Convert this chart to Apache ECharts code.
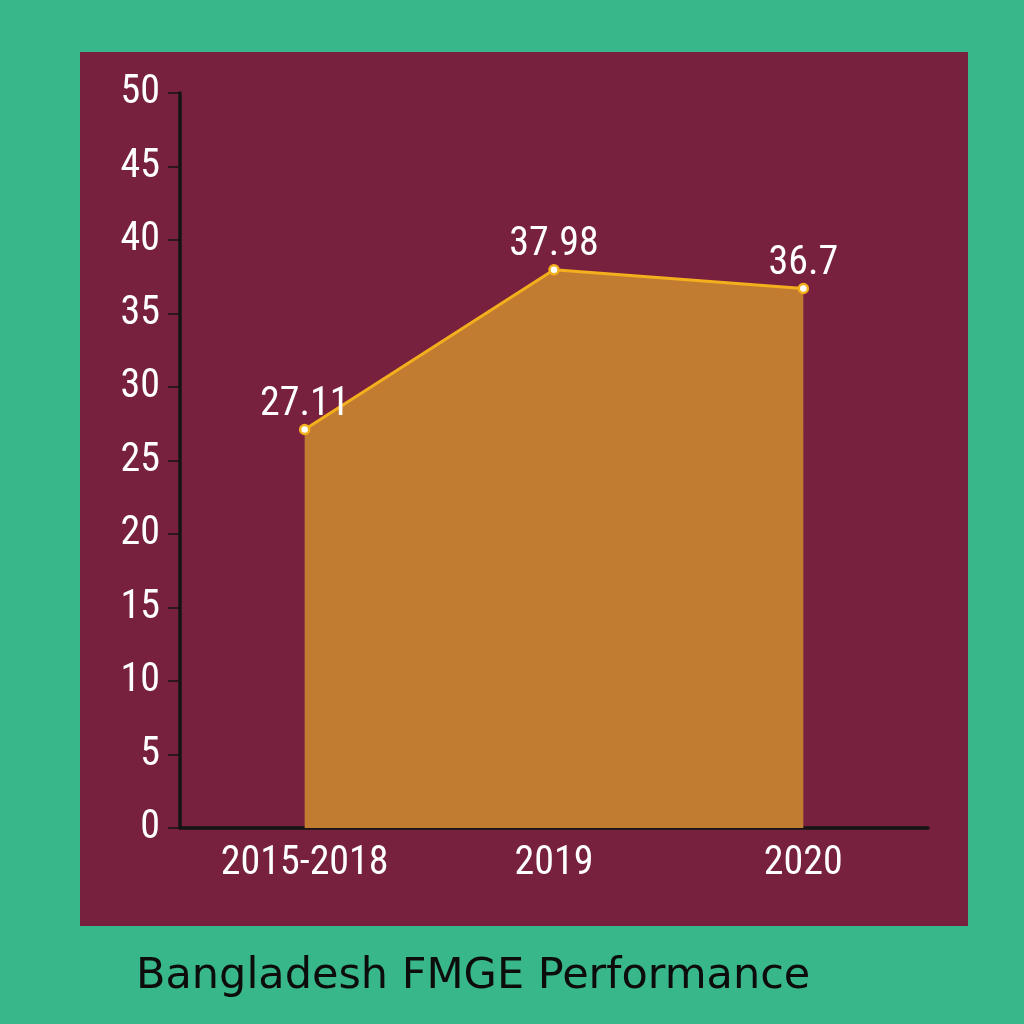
<!DOCTYPE html>
<html>
<head>
<meta charset="utf-8">
<script src="https://cdn.jsdelivr.net/npm/echarts@6/dist/echarts.min.js"></script>
<style>
  html, body { margin: 0; padding: 0; background: #38b78a; }
  #main { width: 1024px; height: 1024px; }
</style>
</head>
<body>
<div id="main"></div>
<script>
  // data
  const categories = ['2015-2018', '2019', '2020'];
  const passRates = [27.11, 37.98, 36.7];
  const titleText = 'Bangladesh FMGE Performance';

  const narrowFont = '"Roboto Condensed", "Liberation Sans Narrow", Roboto, sans-serif';

  let myChart = echarts.init(document.getElementById('main'));

  let option = {
    backgroundColor: '#38b78a',
    animation: false,
    title: {
      text: titleText,
      left: 131,
      top: 950,
      textStyle: {
        color: '#0c0c0c',
        fontFamily: '"DejaVu Sans", "Noto Sans", sans-serif',
        fontWeight: 'normal',
        fontSize: 43
      }
    },
    graphic: [
      {
        type: 'rect',
        z: -10,
        shape: { x: 80, y: 52, width: 888, height: 874 },
        style: { fill: '#78213f' }
      }
    ],
    grid: { left: 180, right: 96, top: 93, bottom: 196 },
    xAxis: {
      type: 'category',
      data: categories,
      boundaryGap: true,
      axisLine: { lineStyle: { color: '#141414', width: 3.5 } },
      axisTick: { alignWithLabel: true, length: 12, lineStyle: { color: '#141414', width: 1.5 } },
      axisLabel: {
        color: '#ffffff',
        fontFamily: narrowFont,
        fontSize: 40,
        margin: 16
      }
    },
    yAxis: {
      type: 'value',
      min: 0,
      max: 50,
      interval: 5,
      splitLine: { show: false },
      axisLine: { show: true, lineStyle: { color: '#141414', width: 3.5 } },
      axisTick: { show: true, length: 12, lineStyle: { color: '#141414', width: 1.5 } },
      axisLabel: {
        color: '#ffffff',
        fontFamily: narrowFont,
        fontSize: 40,
        margin: 20
      }
    },
    series: [
      {
        type: 'line',
        data: passRates,
        symbol: 'circle',
        symbolSize: 9,
        lineStyle: { color: '#f4b01c', width: 3 },
        itemStyle: { color: '#ffffff', borderColor: '#f4b01c', borderWidth: 2.5 },
        areaStyle: { color: '#c27c32', opacity: 1 },
        label: {
          show: true,
          position: 'top',
          distance: -1,
          color: '#ffffff',
          fontFamily: narrowFont,
          fontSize: 40
        }
      }
    ]
  };

  myChart.setOption(option);
</script>
</body>
</html>
